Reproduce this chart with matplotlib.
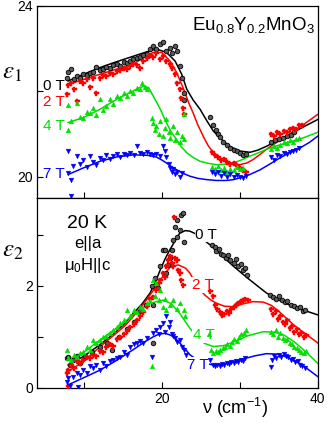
import numpy as np
import matplotlib.pyplot as plt

plt.rcParams['font.family'] = ['Liberation Sans', 'DejaVu Sans']
plt.rcParams['mathtext.fontset'] = 'custom'
plt.rcParams['mathtext.rm'] = 'Liberation Sans'
plt.rcParams['mathtext.it'] = 'Liberation Sans'

fields = ['0 T', '2 T', '4 T', '7 T']
colors = ['black', '#ff0000', '#00e000', '#0000ff']

# eps1 measured points (x in cm^-1)
e1_pts = {
    '0 T': [(7.8, 22.30), (8.0, 22.45), (8.4, 22.52), (8.7, 22.28), (9.1, 22.35), (9.5, 22.30), (9.9, 22.40),
            (10.4, 22.38), (10.8, 22.42), (11.2, 22.45), (11.6, 22.56), (12.1, 22.50), (12.5, 22.52), (12.9, 22.58),
            (13.4, 22.55), (13.8, 22.62), (14.2, 22.64), (14.6, 22.60), (15.1, 22.68), (15.5, 22.66), (15.9, 22.72),
            (16.3, 22.75), (16.8, 22.78), (17.2, 22.80), (17.6, 22.84), (18.1, 22.88), (18.5, 22.99), (18.9, 23.05),
            (19.3, 22.98), (19.8, 23.10), (20.2, 23.15), (20.6, 22.95), (21.0, 23.02), (21.3, 22.90), (21.7, 23.05),
            (21.9, 22.95), (22.3, 22.60), (22.6, 22.30), (22.8, 21.95), (22.9, 21.80),
            (26.2, 21.39), (26.6, 21.20), (26.9, 21.10), (27.2, 21.00), (27.5, 20.92), (27.9, 20.82), (28.3, 20.75),
            (28.7, 20.68), (29.2, 20.62), (29.6, 20.60), (30.0, 20.55), (30.4, 20.50), (30.8, 20.52),
            (34.0, 20.80), (34.5, 20.85), (35.0, 20.88), (35.5, 20.90), (36.0, 20.95), (36.5, 20.98), (37.0, 21.05)],
    '2 T': [(7.8, 21.93), (8.0, 22.15), (8.4, 22.20), (8.7, 22.05), (9.1, 21.77), (9.5, 22.25), (9.9, 22.20),
            (10.4, 22.28), (10.8, 22.10), (11.2, 22.30), (11.6, 21.95), (12.1, 22.32), (12.5, 22.38), (12.9, 22.35),
            (13.4, 22.42), (13.8, 22.40), (14.2, 22.48), (14.6, 22.50), (15.1, 22.55), (15.5, 22.52), (15.9, 22.60),
            (16.3, 22.65), (16.8, 22.62), (17.2, 22.55), (17.6, 22.70), (18.1, 22.78), (18.5, 22.85), (18.9, 22.80),
            (19.3, 22.90), (19.8, 22.75), (20.2, 22.82), (20.6, 22.70), (21.0, 22.65), (21.3, 22.55), (21.7, 22.40),
            (22.0, 22.20), (22.3, 22.05), (22.5, 21.85), (22.7, 21.60), (22.8, 21.46),
            (26.4, 20.58), (26.8, 20.50), (27.2, 20.45), (27.6, 20.40), (28.0, 20.42), (28.4, 20.35), (28.8, 20.30),
            (29.2, 20.32), (29.6, 20.25), (30.0, 20.20), (30.4, 20.15), (30.8, 20.12),
            (34.0, 21.00), (34.4, 20.95), (34.8, 21.05), (35.2, 21.00), (35.6, 21.08), (36.0, 21.05), (36.4, 21.12),
            (36.8, 21.15), (37.2, 21.12), (37.6, 21.20), (38.0, 21.22)],
    '4 T': [(8.0, 21.67), (8.0, 21.10), (8.4, 21.30), (9.1, 21.73), (9.5, 21.40), (9.9, 21.38), (10.4, 21.52),
            (10.8, 21.50), (11.2, 21.60), (11.6, 21.45), (12.1, 21.81), (12.5, 21.55), (12.9, 21.65), (13.4, 21.81),
            (13.8, 21.70), (14.2, 21.90), (14.6, 21.85), (15.1, 21.95), (15.5, 21.88), (15.9, 22.00), (16.3, 21.95),
            (16.8, 22.08), (17.2, 22.05), (17.4, 22.20), (17.8, 22.10), (18.1, 22.05),
            (18.7, 21.38), (18.9, 21.25), (19.1, 21.10), (19.3, 21.18), (19.6, 21.00), (19.8, 21.30), (20.2, 20.95),
            (20.4, 21.15), (20.6, 21.34), (20.9, 21.05), (21.1, 20.90), (21.5, 21.18), (21.7, 20.85), (22.0, 21.05),
            (22.3, 20.80), (22.6, 20.95), (22.8, 20.87), (22.8, 21.46),
            (26.4, 20.22), (26.8, 20.18), (27.2, 20.25), (27.6, 20.15), (28.0, 20.20), (28.4, 20.12), (28.8, 20.18),
            (29.2, 20.15), (29.6, 20.22), (30.0, 20.18), (30.4, 20.20),
            (34.0, 20.65), (34.4, 20.72), (34.8, 20.68), (35.2, 20.75), (35.6, 20.80), (36.0, 20.78), (36.4, 20.85),
            (36.8, 20.82), (37.2, 20.88), (37.6, 20.90)],
    '7 T': [(8.0, 20.60), (8.4, 19.93), (8.0, 20.08), (8.6, 20.25), (9.1, 20.48), (9.5, 20.30), (9.9, 20.40),
            (10.4, 20.22), (10.8, 20.48), (11.2, 20.35), (11.6, 20.28), (12.1, 20.44), (12.5, 20.38), (12.9, 20.50),
            (13.4, 20.42), (13.8, 20.48), (14.2, 20.52), (14.6, 20.45), (15.1, 20.52), (15.5, 20.50), (15.9, 20.56),
            (16.4, 20.50), (16.8, 20.71), (17.2, 20.55), (17.6, 20.53), (18.1, 20.58), (18.5, 20.52), (18.9, 20.50),
            (19.3, 20.52), (19.8, 20.48), (20.2, 20.71), (20.4, 20.60), (20.6, 20.45), (20.9, 20.30), (21.1, 20.20),
            (21.3, 20.10), (21.5, 20.18), (21.7, 20.05), (22.0, 20.12), (22.3, 20.00), (22.6, 20.08), (8.4, 19.54),
            (26.4, 20.12), (26.8, 20.05), (27.2, 20.10), (27.6, 20.02), (28.0, 20.08), (28.4, 20.00), (28.8, 20.05),
            (29.2, 19.98), (29.6, 20.04), (30.0, 20.00), (30.4, 19.96), (30.8, 20.02),
            (34.0, 20.45), (34.4, 20.40), (34.8, 20.50), (35.2, 20.48), (35.6, 20.55), (36.0, 20.52), (36.4, 20.58),
            (36.8, 20.60), (37.2, 20.62), (37.6, 20.66)],
}

# eps1 fit curves
e1_fit = {
    '0 T': [(8.0, 22.24), (10.0, 22.40), (12.0, 22.55), (14.0, 22.68), (16.0, 22.80), (18.0, 22.92), (19.3, 22.99),
            (20.6, 22.91), (21.7, 22.71), (22.55, 22.40), (23.2, 22.05), (24.0, 21.80), (24.9, 21.58), (25.8, 21.30),
            (26.6, 21.07), (27.6, 20.88), (28.7, 20.71), (30.0, 20.60), (31.3, 20.57), (32.3, 20.62), (33.4, 20.71),
            (34.7, 20.83), (36.0, 20.95), (38.0, 21.15), (40.0, 21.34)],
    '2 T': [(8.0, 22.16), (10.0, 22.28), (12.1, 22.40), (14.2, 22.52), (16.35, 22.64), (17.8, 22.80), (18.9, 22.91),
            (20.0, 22.91), (21.05, 22.71), (21.9, 22.44), (22.8, 22.05), (23.4, 21.75), (24.0, 21.50), (24.6, 21.22),
            (25.3, 20.95), (25.9, 20.74), (26.6, 20.56), (27.4, 20.44), (28.3, 20.36), (29.2, 20.30), (30.0, 20.28),
            (30.9, 20.32), (31.7, 20.40), (32.6, 20.52), (33.4, 20.64), (34.7, 20.80), (36.0, 20.95), (38.0, 21.20),
            (40.0, 21.46)],
    '4 T': [(8.0, 21.27), (9.9, 21.38), (12.1, 21.58), (14.2, 21.81), (16.35, 22.01), (17.2, 22.09), (17.6, 22.11),
            (18.3, 22.09), (18.9, 21.89), (19.4, 21.72), (19.8, 21.58), (20.2, 21.42), (20.6, 21.26), (21.2, 21.05),
            (21.9, 20.87), (22.5, 20.70), (23.2, 20.56), (24.0, 20.45), (24.9, 20.36), (26.0, 20.31), (27.0, 20.28),
            (28.0, 20.29), (29.2, 20.32), (30.2, 20.39), (31.3, 20.48), (32.4, 20.56), (33.4, 20.64), (34.7, 20.72),
            (36.0, 20.79), (38.0, 20.90), (40.0, 21.04)],
    '7 T': [(8.0, 20.05), (9.9, 20.20), (12.1, 20.36), (14.2, 20.46), (16.35, 20.51), (18.1, 20.50), (19.3, 20.46),
            (20.0, 20.39), (20.6, 20.32), (21.2, 20.24), (21.9, 20.16), (22.7, 20.08), (23.6, 20.01), (24.6, 19.96),
            (25.75, 19.93), (27.0, 19.91), (28.3, 19.91), (29.2, 19.93), (30.0, 19.97), (31.3, 20.05), (32.6, 20.16),
            (33.9, 20.30), (35.15, 20.44), (36.4, 20.56), (37.7, 20.67), (38.9, 20.80), (40.0, 20.95)],
}

# eps2 measured points
e2_pts = {
    '0 T': [(7.8, 0.58), (8.0, 0.61), (8.2, 0.45), (8.6, 0.55), (9.1, 0.63), (9.5, 0.49), (10.2, 0.62), (11.0, 0.70),
            (12.1, 0.80), (13.0, 0.88), (13.6, 0.75), (14.5, 1.00), (15.5, 1.15), (16.4, 1.30), (17.2, 1.50),
            (18.0, 1.62), (18.7, 1.99), (18.9, 1.63), (18.9, 0.88), (19.1, 2.15), (19.5, 1.96), (19.8, 2.38),
            (20.2, 2.71), (20.4, 2.70), (20.6, 2.25), (20.8, 2.40), (21.0, 2.55), (21.3, 2.71), (21.5, 2.90),
            (21.7, 3.16), (21.9, 2.96), (22.0, 3.29), (22.3, 3.10), (22.5, 3.39), (22.7, 3.43), (22.8, 2.85),
            (26.4, 2.80), (26.8, 2.75), (27.0, 2.68), (27.3, 2.72), (27.6, 2.62), (27.9, 2.60), (28.2, 2.55),
            (28.5, 2.60), (28.8, 2.50), (29.2, 2.45), (29.5, 2.52), (29.8, 2.38), (30.1, 2.42), (30.4, 2.30),
            (30.7, 2.35), (30.9, 2.22),
            (33.9, 1.82), (34.3, 1.78), (34.7, 1.75), (35.0, 1.80), (35.4, 1.72), (35.8, 1.68), (36.1, 1.70),
            (36.5, 1.62), (36.9, 1.60), (37.3, 1.56), (37.7, 1.58), (38.1, 1.50), (38.4, 1.52)],
    '2 T': [(7.8, 0.29), (8.0, 0.35), (8.0, 0.03), (8.4, 0.45), (8.7, 0.38), (9.1, 0.52), (9.5, 0.48), (9.9, 0.55),
            (10.4, 0.60), (10.8, 0.58), (11.2, 0.65), (11.6, 0.62), (12.1, 0.72), (12.5, 0.70), (12.9, 0.80),
            (13.4, 0.85), (13.8, 0.82), (14.2, 0.95), (14.6, 1.00), (15.1, 1.05), (15.5, 1.12), (15.9, 1.20),
            (16.4, 1.25), (16.8, 1.33), (17.2, 1.40), (17.6, 1.48), (18.1, 1.60), (18.5, 1.75), (18.9, 1.79),
            (19.3, 1.92), (19.6, 2.05), (19.8, 2.12), (20.2, 2.25), (20.4, 2.18), (20.6, 2.38), (20.8, 2.50),
            (21.0, 2.58), (21.3, 2.45), (21.5, 2.38), (21.7, 2.55), (21.9, 2.51), (22.1, 2.30), (22.3, 2.25),
            (22.5, 2.12), (22.7, 2.02), (21.6, 3.35),
            (26.2, 1.90), (26.5, 1.80), (26.8, 1.62), (27.1, 1.55), (27.4, 1.48), (27.7, 1.42), (28.0, 1.45),
            (28.3, 1.50), (28.6, 1.46), (28.9, 1.55), (29.2, 1.58), (29.5, 1.62), (29.8, 1.66), (30.1, 1.70),
            (30.4, 1.72), (30.7, 1.75), (31.0, 1.73),
            (34.0, 1.55), (34.3, 1.45), (34.6, 1.50), (34.9, 1.35), (35.2, 1.40), (35.5, 1.30), (35.8, 1.25),
            (36.1, 1.32), (36.4, 1.18), (36.7, 1.22), (37.0, 1.10), (37.3, 1.15), (37.6, 1.05), (37.9, 1.08),
            (38.2, 1.00), (38.5, 1.03)],
    '4 T': [(7.8, 0.75), (8.0, 0.58), (8.4, 0.55), (8.7, 0.65), (9.1, 0.61), (9.5, 0.68), (9.9, 0.70), (10.4, 0.81),
            (10.8, 0.75), (11.2, 0.94), (11.6, 0.88), (12.1, 0.94), (12.5, 1.00), (12.9, 1.01), (13.4, 1.07),
            (13.8, 1.14), (14.2, 1.20), (14.6, 1.27), (15.1, 1.33), (15.5, 1.53), (15.9, 1.40), (16.4, 1.53),
            (16.8, 1.48), (17.2, 1.59), (17.6, 1.55), (18.1, 1.66), (18.5, 1.70), (18.7, 0.42), (18.9, 2.12),
            (19.1, 1.80), (19.3, 2.05), (19.6, 1.72), (19.8, 1.92), (20.2, 1.59), (20.4, 1.75), (20.6, 1.53),
            (21.0, 1.62), (21.5, 1.73), (21.9, 1.55), (22.3, 1.66), (22.8, 1.53), (23.0, 1.40),
            (26.0, 1.05), (26.3, 0.75), (26.6, 0.68), (26.9, 0.72), (27.2, 0.70), (27.5, 0.75), (27.8, 0.78),
            (28.1, 0.80), (28.4, 0.85), (28.7, 0.82), (29.0, 0.90), (29.3, 0.95), (29.6, 0.92), (29.9, 1.00),
            (30.2, 1.05), (30.5, 1.08), (30.8, 1.14),
            (34.0, 1.10), (34.3, 1.05), (34.6, 1.14), (34.9, 1.00), (35.2, 1.07), (35.5, 0.98), (35.8, 0.94),
            (36.1, 0.96), (36.4, 0.88), (36.7, 0.85), (37.0, 0.80), (37.3, 0.78), (37.6, 0.75), (37.9, 0.70),
            (38.2, 0.68), (38.5, 0.72)],
    '7 T': [(7.8, 0.12), (8.0, 0.20), (8.2, 0.03), (8.6, 0.22), (9.1, 0.29), (9.3, 0.02), (9.5, 0.25), (9.9, 0.35),
            (10.4, 0.30), (10.8, 0.42), (11.2, 0.38), (11.6, 0.45), (12.1, 0.35), (12.5, 0.48), (12.9, 0.42),
            (13.4, 0.52), (13.8, 0.55), (14.2, 0.58), (14.6, 0.61), (15.1, 0.70), (15.5, 0.65), (15.9, 0.81),
            (16.4, 0.85), (16.8, 0.88), (17.2, 0.91), (17.6, 0.88), (18.1, 0.97), (18.7, 0.61), (18.9, 1.07),
            (19.3, 1.14), (19.6, 1.05), (19.8, 1.20), (20.2, 1.27), (20.4, 1.10), (20.6, 1.40), (20.9, 1.20),
            (21.0, 1.30), (21.3, 1.05), (21.5, 1.01), (21.7, 0.98), (22.0, 0.90), (22.3, 0.94), (22.6, 0.81),
            (22.8, 0.75), (23.1, 0.65),
            (26.2, 0.55), (26.5, 0.45), (26.8, 0.42), (27.1, 0.45), (27.4, 0.43), (27.7, 0.46), (28.0, 0.44),
            (28.3, 0.48), (28.6, 0.46), (28.9, 0.50), (29.2, 0.48), (29.5, 0.52), (29.8, 0.50), (30.1, 0.55),
            (30.4, 0.53), (30.7, 0.58),
            (34.0, 0.40), (34.1, 0.55), (34.4, 0.62), (34.7, 0.58), (35.0, 0.65), (35.3, 0.60), (35.6, 0.66),
            (35.9, 0.62), (36.2, 0.60), (36.5, 0.55), (36.8, 0.56), (37.1, 0.50), (37.4, 0.52), (37.7, 0.45),
            (38.0, 0.42), (38.3, 0.38)],
}

# eps2 fit curves
e2_fit = {
    '0 T': [(8.0, 0.45), (10.0, 0.62), (12.1, 0.85), (14.0, 1.08), (15.3, 1.27), (16.35, 1.46), (17.5, 1.65),
            (18.5, 1.86), (19.2, 2.08), (19.8, 2.31), (20.4, 2.52), (21.05, 2.71), (21.7, 2.88), (22.3, 3.03),
            (23.0, 3.08), (23.6, 3.07), (24.3, 3.02), (25.2, 2.92), (26.2, 2.80), (27.5, 2.62), (29.2, 2.38),
            (31.0, 2.15), (33.4, 1.86), (35.0, 1.72), (37.0, 1.58), (40.0, 1.43)],
    '2 T': [(8.0, 0.32), (10.0, 0.52), (12.1, 0.81), (14.0, 1.05), (15.3, 1.22), (16.35, 1.40), (17.3, 1.57),
            (18.3, 1.78), (19.3, 1.99), (20.3, 2.22), (21.05, 2.36), (22.1, 2.41), (23.0, 2.35), (23.6, 2.25),
            (24.5, 2.00), (25.5, 1.82), (26.3, 1.72), (27.0, 1.66), (28.0, 1.60), (29.2, 1.59), (30.5, 1.65),
            (31.7, 1.69), (33.0, 1.68), (34.0, 1.62), (35.0, 1.50), (36.0, 1.36), (37.0, 1.22), (38.5, 1.05),
            (40.0, 0.88)],
    '4 T': [(8.0, 0.55), (10.0, 0.70), (12.1, 0.94), (14.0, 1.15), (15.3, 1.30), (16.35, 1.44), (17.3, 1.55),
            (18.3, 1.64), (19.3, 1.69), (20.2, 1.72), (21.2, 1.65), (22.3, 1.46), (23.0, 1.30), (23.6, 1.17),
            (24.5, 1.00), (25.5, 0.87), (26.6, 0.81), (28.0, 0.83), (29.2, 0.90), (31.0, 1.02), (33.0, 1.10),
            (34.5, 1.09), (35.6, 1.04), (37.0, 0.90), (38.5, 0.70), (40.0, 0.48)],
    '7 T': [(8.0, 0.06), (10.0, 0.20), (12.1, 0.35), (14.0, 0.52), (16.35, 0.75), (18.0, 0.92), (18.9, 1.00),
            (19.6, 1.05), (20.4, 1.07), (21.0, 1.04), (21.5, 1.00), (22.3, 0.88), (23.0, 0.76), (23.6, 0.65),
            (24.5, 0.55), (25.5, 0.48), (26.6, 0.45), (28.0, 0.47), (30.0, 0.55), (32.0, 0.63), (33.4, 0.67),
            (35.0, 0.66), (36.4, 0.58), (38.0, 0.45), (40.0, 0.22)],
}

marker_style = {
    '0 T': dict(marker='o', ms=3.3, mfc='#5a5a5a', mec='black', mew=0.6),
    '2 T': dict(marker='P', ms=3.6, mfc='#ff0000', mec='#ff0000', mew=0.3),
    '4 T': dict(marker='^', ms=3.4, mfc='#00e000', mec='#00e000', mew=0.3),
    '7 T': dict(marker='v', ms=3.4, mfc='#0000ff', mec='#0000ff', mew=0.3),
}

fig = plt.figure(figsize=(3.27, 4.23), dpi=100)
ax1 = fig.add_axes([0.113, 0.532, 0.859, 0.454])
ax2 = fig.add_axes([0.113, 0.083, 0.859, 0.449])

for f, c in zip(fields, colors):
    px, py = np.array(e1_pts[f]).T
    ax1.plot(px, py, ls='none', zorder=4, **marker_style[f])
    fx, fy = np.array(e1_fit[f]).T
    ax1.plot(fx, fy, color=c, lw=1.1, zorder=2)
    px, py = np.array(e2_pts[f]).T
    ax2.plot(px, py, ls='none', zorder=4, **marker_style[f])
    fx, fy = np.array(e2_fit[f]).T
    ax2.plot(fx, fy, color=c, lw=1.1, zorder=2)

for ax in (ax1, ax2):
    ax.set_xlim(4, 40)
    ax.set_xticks([10, 20, 30, 40])
    ax.tick_params(direction='in', length=4, width=0.8, labelsize=10, pad=3)
    for s in ax.spines.values():
        s.set_linewidth(0.9)

ax1.set_ylim(19.5, 24)
ax1.set_yticks([20, 22, 24])
ax1.set_yticklabels(['20', '', '24'])
ax1.set_xticklabels([])
ax2.set_ylim(0, 3.72)
ax2.set_yticks([0, 1, 2, 3])
ax2.set_yticklabels(['0', '', '2', ''])
ax2.set_xticklabels(['', '20', '', '40'])

# field labels
for f, c, y in zip(fields, colors, [22.12, 21.76, 21.18, 20.07]):
    ax1.text(4.8, y, f, color=c, fontsize=11, va='center', ha='left')
for f, c, (x, y) in zip(fields, colors, [(24.3, 3.0), (23.9, 2.02), (24.0, 1.04), (23.2, 0.45)]):
    ax2.text(x, y, f, color=c, fontsize=11, va='center', ha='left', zorder=3,
             bbox=dict(facecolor='white', edgecolor='none', pad=0.5))

ax1.text(0.99, 0.875, r'Eu$_{0.8}$Y$_{0.2}$MnO$_3$', transform=ax1.transAxes,
         ha='right', va='baseline', fontsize=13.5)
ax2.text(0.18, 0.863, '20 K', transform=ax2.transAxes, ha='center', va='center', fontsize=14)
ax2.text(0.18, 0.758, 'e||a', transform=ax2.transAxes, ha='center', va='center', fontsize=12)
ax2.text(0.18, 0.647, r'$\mu_0$H||c', transform=ax2.transAxes, ha='center', va='center', fontsize=12)

fig.text(0.005, 0.83, r'$\varepsilon_1$', fontsize=18, ha='left', va='center', math_fontfamily='stix')
fig.text(0.005, 0.41, r'$\varepsilon_2$', fontsize=18, ha='left', va='center', math_fontfamily='stix')
fig.text(0.72, 0.035, r'$\nu$ (cm$^{-1}$)', fontsize=13, ha='center', va='center')

fig.savefig('out.png', dpi=100)
